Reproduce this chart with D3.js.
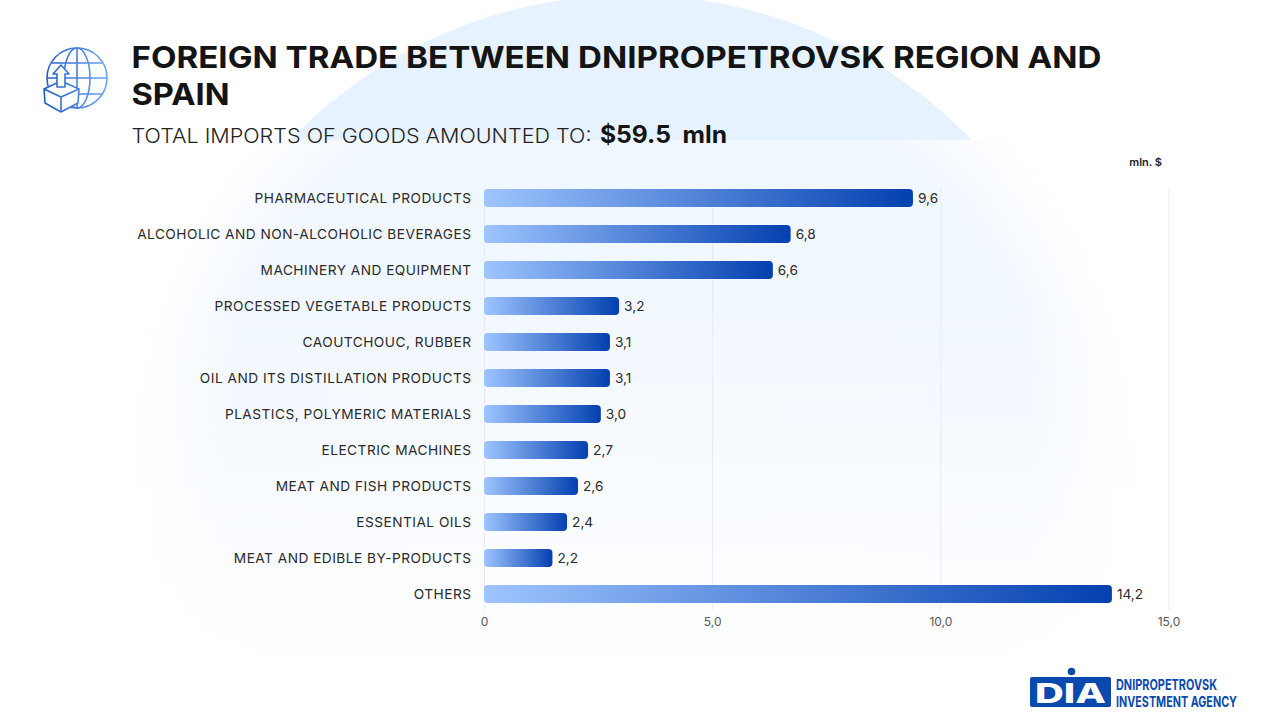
<!DOCTYPE html>
<html>
<head>
<meta charset="utf-8">
<script src="https://cdn.jsdelivr.net/npm/d3@7"></script>
<style>
    html, body { margin: 0; padding: 0; background: #fff; }
    svg { display: block; }
    text { font-family: "Inter", "Noto Sans", sans-serif; }
    .axis-cat text { font-size: 13.7px; fill: #2b2b2b; letter-spacing: 0.48px; }
    .axis-val text { font-size: 12px; fill: #555; }
    .axis-val line { stroke: #e8eaf0; }
    .value-label { font-size: 13.7px; fill: #2b2b2b; }
</style>
</head>
<body>
<svg id="chart" width="1280" height="720"></svg>
<script>
// ------------------ DATA ------------------

const categories = [
    "PHARMACEUTICAL PRODUCTS",
    "ALCOHOLIC AND NON-ALCOHOLIC BEVERAGES",
    "MACHINERY AND EQUIPMENT",
    "PROCESSED VEGETABLE PRODUCTS",
    "CAOUTCHOUC, RUBBER",
    "OIL AND ITS DISTILLATION PRODUCTS",
    "PLASTICS, POLYMERIC MATERIALS",
    "ELECTRIC MACHINES",
    "MEAT AND FISH PRODUCTS",
    "ESSENTIAL OILS",
    "MEAT AND EDIBLE BY-PRODUCTS",
    "OTHERS"
];
// printed values, as written next to the bars
const valueLabels = ["9,6", "6,8", "6,6", "3,2", "3,1", "3,1", "3,0", "2,7", "2,6", "2,4", "2,2", "14,2"];
// bar lengths as read against the axis (the source bars run a little short of their labels)
const barLengths = [9.4, 6.72, 6.33, 2.96, 2.76, 2.76, 2.56, 2.28, 2.06, 1.82, 1.5, 13.76];
const axisTicks = [0, 5, 10, 15];

// ------------------ SETUP ------------------

const svg = d3.select("#chart");
const defs = svg.append("defs");

const x = d3.scaleLinear().domain([0, 15]).range([484, 1168.5]);
const y = d3.scaleBand().domain(categories).range([180, 612]).paddingInner(0.5).paddingOuter(0.25);

let barGrad = defs.append("linearGradient").attr("id", "bar-grad");
barGrad.append("stop").attr("offset", "0%").attr("stop-color", "#9fc5ff");
barGrad.append("stop").attr("offset", "100%").attr("stop-color", "#0340b0");

let iconGrad = defs.append("linearGradient").attr("id", "icon-grad")
    .attr("gradientUnits", "userSpaceOnUse")
    .attr("x1", 44).attr("x2", 108).attr("y1", 0).attr("y2", 0);
iconGrad.append("stop").attr("offset", "0%").attr("stop-color", "#1f5cc6");
iconGrad.append("stop").attr("offset", "100%").attr("stop-color", "#6ea6f4");

// ------------------ BACKGROUND ------------------

defs.append("clipPath").attr("id", "top-clip")
    .append("rect").attr("x", 0).attr("y", 0).attr("width", 1280).attr("height", 140);

let glow = defs.append("radialGradient").attr("id", "glow")
    .attr("gradientUnits", "userSpaceOnUse")
    .attr("cx", 631).attr("cy", 468).attr("r", 505);
glow.append("stop").attr("offset", "0%").attr("stop-color", "#f2f8ff");
glow.append("stop").attr("offset", "80%").attr("stop-color", "#f1f7ff");
glow.append("stop").attr("offset", "100%").attr("stop-color", "#ffffff");

let fade = defs.append("linearGradient").attr("id", "fade")
    .attr("x1", 0).attr("x2", 0).attr("y1", 0).attr("y2", 1);
fade.append("stop").attr("offset", "0%").attr("stop-color", "#fff").attr("stop-opacity", 0);
fade.append("stop").attr("offset", "90%").attr("stop-color", "#fff").attr("stop-opacity", 1);

svg.append("circle")
    .attr("cx", 631).attr("cy", 468).attr("r", 473)
    .attr("fill", "#e6f2ff")
    .attr("clip-path", "url(#top-clip)");
svg.append("rect")
    .attr("x", 0).attr("y", 140).attr("width", 1280).attr("height", 580)
    .attr("fill", "url(#glow)");
svg.append("rect")
    .attr("x", 0).attr("y", 300).attr("width", 1280).attr("height", 420)
    .attr("fill", "url(#fade)");

// ------------------ HEADER ------------------

function drawIcon() {
    let icon = svg.append("g")
        .attr("fill", "none")
        .attr("stroke", "url(#icon-grad)")
        .attr("stroke-width", 1.6)
        .attr("stroke-linejoin", "round");

    icon.append("circle").attr("cx", 77).attr("cy", 78).attr("r", 30);
    icon.append("ellipse").attr("cx", 77).attr("cy", 78).attr("rx", 13).attr("ry", 30);
    icon.append("path").attr("d", "M77 48V108M52 63H102M47 78H107M52 94H102");

    icon.append("path").attr("fill", "#fff")
        .attr("d", "M44 89L61 81L79 89L78 103L61 112L45 103Z");
    icon.append("path").attr("d", "M44 89L61 97L79 89M61 97V112");
    icon.append("path").attr("fill", "#fff")
        .attr("d", "M61 65L69 74H65V87H57V74H53Z");
}

function drawHeader() {
    svg.append("text").attr("x", 131.5).attr("y", 68)
        .attr("font-size", 30).attr("font-weight", 700).attr("fill", "#141414")
        .attr("textLength", 970).attr("lengthAdjust", "spacingAndGlyphs")
        .text("FOREIGN TRADE BETWEEN DNIPROPETROVSK REGION AND");
    svg.append("text").attr("x", 131.5).attr("y", 105)
        .attr("font-size", 30).attr("font-weight", 700).attr("fill", "#141414")
        .attr("textLength", 98).attr("lengthAdjust", "spacingAndGlyphs")
        .text("SPAIN");
    svg.append("text").attr("x", 131.5).attr("y", 143)
        .attr("font-size", 20.5).attr("font-weight", 300).attr("fill", "#222")
        .attr("textLength", 460).attr("lengthAdjust", "spacingAndGlyphs")
        .text("TOTAL IMPORTS OF GOODS AMOUNTED TO:");
    svg.append("text").attr("x", 600).attr("y", 143)
        .attr("font-size", 24).attr("font-weight", 700).attr("fill", "#141414")
        .attr("textLength", 127).attr("lengthAdjust", "spacingAndGlyphs")
        .text("$59.5\u00a0 mln");
    svg.append("text").attr("x", 1162).attr("y", 166)
        .attr("text-anchor", "end")
        .attr("font-size", 11).attr("font-weight", 600).attr("fill", "#222")
        .text("mln. $");
}

// ------------------ CHART ------------------

function drawChart() {
    // value axis, its ticks double as the grid lines
    let valAxis = svg.append("g")
        .attr("class", "axis-val")
        .attr("transform", "translate(0,610)")
        .call(d3.axisBottom(x)
            .tickValues(axisTicks)
            .tickSize(-422)
            .tickPadding(7)
            .tickFormat((d) => { return d == 0 ? "0" : d3.format(".1f")(d).replace(".", ","); }));
    valAxis.select(".domain").remove();

    let catAxis = svg.append("g")
        .attr("class", "axis-cat")
        .attr("transform", "translate(484,1)")
        .call(d3.axisLeft(y).tickSize(0).tickPadding(12.5));
    catAxis.select(".domain").remove();

    svg.append("g").selectAll("rect")
        .data(categories)
        .enter().append("rect")
        .attr("x", x(0))
        .attr("y", (d) => { return y(d); })
        .attr("width", (d, i) => { return x(barLengths[i]) - x(0); })
        .attr("height", y.bandwidth())
        .attr("rx", 4)
        .attr("fill", "url(#bar-grad)");

    svg.append("g").selectAll("text")
        .data(categories)
        .enter().append("text")
        .attr("class", "value-label")
        .attr("x", (d, i) => { return x(barLengths[i]) + 5; })
        .attr("y", (d) => { return y(d) + y.bandwidth() / 2; })
        .attr("dy", "0.35em")
        .text((d, i) => { return valueLabels[i]; });
}

// ------------------ LOGO ------------------

function drawLogo() {
    let logo = svg.append("g");
    logo.append("rect")
        .attr("x", 1030).attr("y", 677).attr("width", 81).attr("height", 30)
        .attr("rx", 2).attr("fill", "#0a49ad");
    logo.append("circle").attr("cx", 1071.5).attr("cy", 671.5).attr("r", 3.8).attr("fill", "#0a49ad");
    logo.append("text").attr("x", 1035).attr("y", 703)
        .attr("font-size", 27).attr("font-weight", 800).attr("fill", "#fff")
        .attr("textLength", 71).attr("lengthAdjust", "spacingAndGlyphs")
        .text("DIA");
    logo.append("text").attr("x", 1116).attr("y", 690)
        .attr("font-family", "Liberation Sans Narrow")
        .attr("font-size", 14.7).attr("font-weight", 700).attr("fill", "#0a49ad")
        .attr("textLength", 101).attr("lengthAdjust", "spacingAndGlyphs")
        .text("DNIPROPETROVSK");
    logo.append("text").attr("x", 1116).attr("y", 707)
        .attr("font-family", "Liberation Sans Narrow")
        .attr("font-size", 14.7).attr("font-weight", 700).attr("fill", "#0a49ad")
        .attr("textLength", 121).attr("lengthAdjust", "spacingAndGlyphs")
        .text("INVESTMENT AGENCY");
}

drawIcon();
drawHeader();
drawChart();
drawLogo();
</script>
</body>
</html>
